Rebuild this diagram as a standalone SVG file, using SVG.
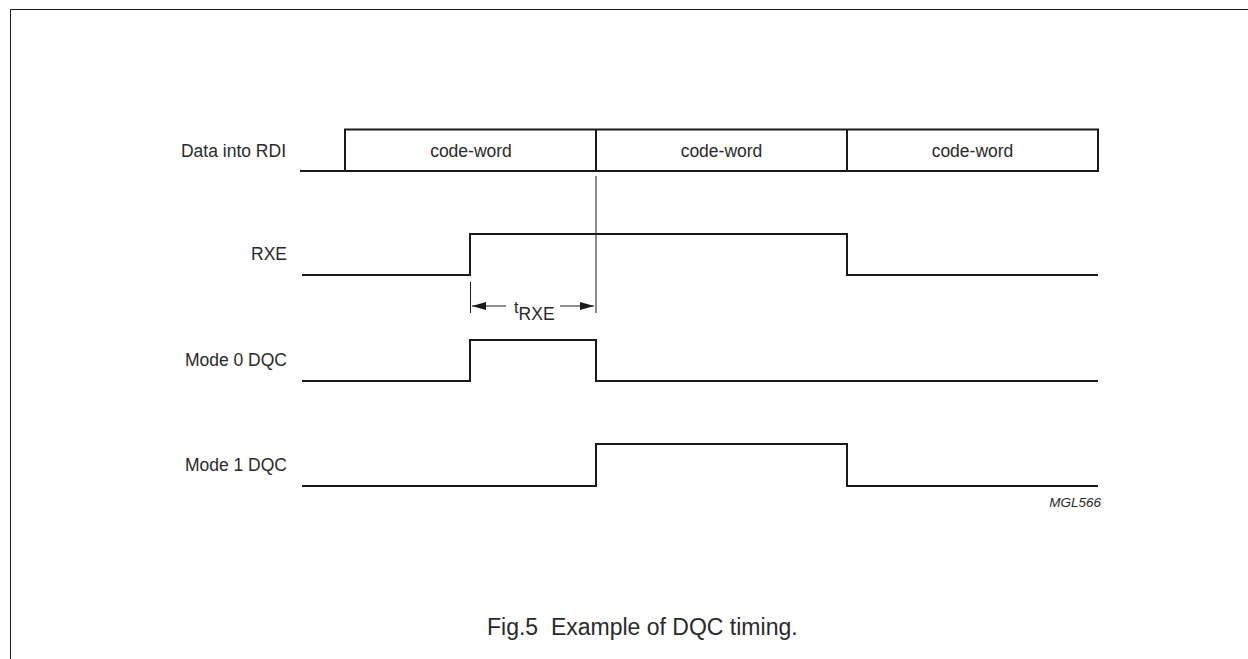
<svg xmlns="http://www.w3.org/2000/svg" width="1248" height="659" viewBox="0 0 1248 659">
<style>
  .sig{fill:none;stroke:#1a1a1a;stroke-width:2;stroke-linejoin:miter;stroke-linecap:butt}
  .thin{fill:none;stroke:#1a1a1a;stroke-width:1}
  .lbl{font-family:"Liberation Sans",Arial,sans-serif;font-size:17.5px;fill:#2a2a2a}
  .cap{font-family:"Liberation Sans",Arial,sans-serif;font-size:23px;fill:#2a2a2a}
  .code{font-family:"Liberation Sans",Arial,sans-serif;font-size:13.5px;font-style:italic;fill:#2a2a2a}
</style>
<defs>
  <marker id="ah" viewBox="0 0 14 8" refX="14" refY="4" markerWidth="14" markerHeight="8" markerUnits="userSpaceOnUse" orient="auto-start-reverse">
    <path d="M0,0 L14,4 L0,8 Z" fill="#1a1a1a"/>
  </marker>
</defs>
<rect width="1248" height="659" fill="#fff"/>
<g id="frame"><path class="thin" d="M10.5,659 V9.5 H1248" stroke-width="1.5"/></g>

<g id="data-into-rdi">
  <text class="lbl" x="286" y="157" text-anchor="end">Data into RDI</text>
  <path class="sig" d="M300,171 H345 V129.5 H1098 V171 H345"/>
  <path class="sig" d="M596,129.5 V171 M847,129.5 V171"/>
  <text class="lbl" x="471" y="157" text-anchor="middle">code-word</text>
  <text class="lbl" x="721.5" y="157" text-anchor="middle">code-word</text>
  <text class="lbl" x="972.5" y="157" text-anchor="middle">code-word</text>
</g>

<g id="rxe">
  <text class="lbl" x="287" y="260" text-anchor="end">RXE</text>
  <path class="sig" d="M302,275 H470 V234 H847 V275 H1098"/>
</g>

<g id="mode0">
  <text class="lbl" x="287" y="366" text-anchor="end">Mode 0 DQC</text>
  <path class="sig" d="M302,381 H470 V340 H596 V381 H1098"/>
</g>

<g id="mode1">
  <text class="lbl" x="287" y="471" text-anchor="end">Mode 1 DQC</text>
  <path class="sig" d="M302,486 H596 V444 H847 V486 H1098"/>
</g>

<g id="connectors">
  <path class="thin" d="M596,176 V313"/>
  <path class="thin" d="M470.5,282 V313"/>
  <path class="thin" d="M506,306 H472" marker-end="url(#ah)"/>
  <path class="thin" d="M560,306 H594" marker-end="url(#ah)"/>
</g>
<g id="trxe-label">
  <text class="lbl" x="514" y="313"><tspan font-size="16.5">t</tspan><tspan font-size="17.5" dy="6.5">RXE</tspan></text>
</g>

<text class="code" x="1101" y="507" text-anchor="end">MGL566</text>
<text class="cap" x="487" y="635" xml:space="preserve">Fig.5  Example of DQC timing.</text>
</svg>
